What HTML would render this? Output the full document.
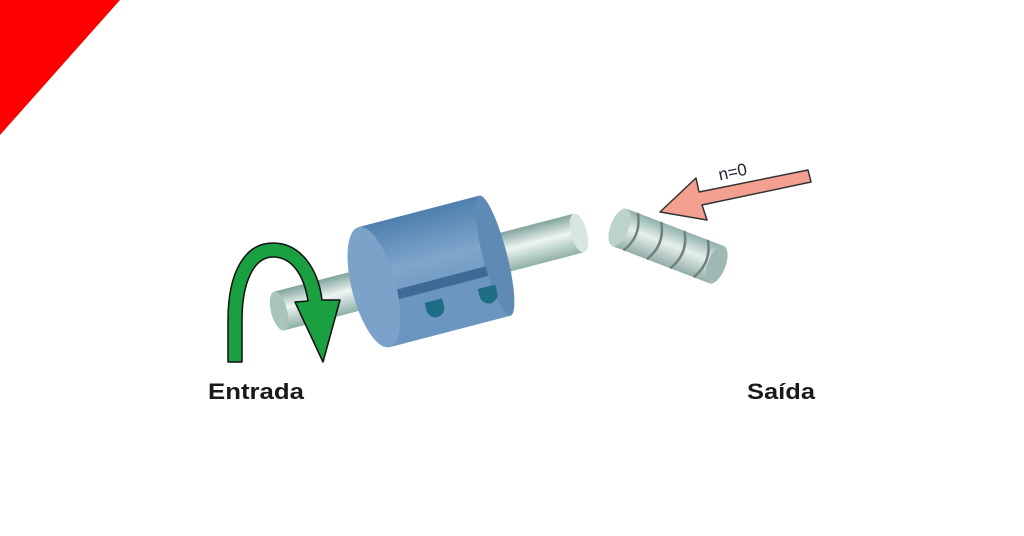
<!DOCTYPE html>
<html><head><style>body{margin:0;background:#fff}svg{display:block}</style></head><body>
<svg width="1024" height="536" viewBox="0 0 1024 536" xmlns="http://www.w3.org/2000/svg">
<defs>
<linearGradient id="sh" x1="0" y1="0" x2="0" y2="1">
<stop offset="0" stop-color="#7fa39c"/><stop offset="0.45" stop-color="#eef5f2"/><stop offset="1" stop-color="#8fb0a8"/></linearGradient>
<linearGradient id="bd" x1="0" y1="0" x2="0" y2="1">
<stop offset="0" stop-color="#4e7fae"/><stop offset="0.4" stop-color="#7fa6cb"/><stop offset="1" stop-color="#5d89b5"/></linearGradient>
<linearGradient id="rb" x1="0" y1="0" x2="0" y2="1">
<stop offset="0" stop-color="#8fb0aa"/><stop offset="0.45" stop-color="#e6efec"/><stop offset="1" stop-color="#93ada8"/></linearGradient>
</defs>
<polygon points="0,0 120,0 0,135" fill="#ff0000"/>
<g transform="translate(429,272) rotate(-14.6)">
<rect x="-155" y="-20" width="310" height="40" fill="url(#sh)"/>
<ellipse cx="-155" cy="0" rx="8" ry="20" fill="#a9c4bd"/>
<ellipse cx="155" cy="0" rx="8" ry="20" fill="#d8e6e2"/>
</g>
<g transform="translate(432,272) rotate(-14.6)">
<rect x="-60" y="-62" width="125" height="124" fill="url(#bd)"/>
<path d="M-60,15 L65,15 L65,62 L-60,62 Z" fill="#6a96c0"/>
<path d="M-40,8 L65,8 L65,18 L-40,18 Z" fill="#3e6b95"/>
<ellipse cx="65" cy="0" rx="12" ry="62" fill="#5f8ab4"/>
<ellipse cx="-60" cy="0" rx="22" ry="62" fill="#7ba3c9"/>
<path d="M-15,28 h18 v8 a9,9 0 0 1 -18,0 z" fill="#1f6d85"/>
<path d="M40,28 h18 v8 a9,9 0 0 1 -18,0 z" fill="#1f6d85"/>
</g>
<g transform="translate(668,246) rotate(21)">
<rect x="-52" y="-20" width="104" height="40" fill="url(#rb)"/>
<ellipse cx="-52" cy="0" rx="9" ry="20" fill="#bcd2cd"/>
<ellipse cx="52" cy="0" rx="9" ry="20" fill="#9fb8b3"/>
<path d="M-40,-20 q12,20 0,40 M-15,-20 q12,20 0,40 M10,-20 q12,20 0,40 M35,-20 q12,20 0,40" stroke="#6f817d" stroke-width="2.5" fill="none"/>
</g>
<polygon points="660,212 696,178 699,192 808,170 811,182 702,205 707,220" fill="#f4a090" stroke="#333" stroke-width="1.5" stroke-linejoin="round"/>
<text x="718" y="176" font-family="Liberation Sans, sans-serif" font-size="17" fill="#223" transform="rotate(-12 740 170)">n=0</text>
<path d="M228,362 L228,320 C228,272 245,243 273,243 C300,243 318,268 322,300 L340,300 L323,362 L295,302 L308,301 C304,275 292,257 273,257 C254,257 242,282 242,320 L242,362 Z" fill="#1aa040" stroke="#111" stroke-width="1.5" stroke-linejoin="round"/>
<text x="208" y="399" font-family="Liberation Sans, sans-serif" font-weight="bold" font-size="22" fill="#1a1a1a" textLength="96" lengthAdjust="spacingAndGlyphs">Entrada</text>
<text x="747" y="399" font-family="Liberation Sans, sans-serif" font-weight="bold" font-size="22" fill="#1a1a1a" textLength="68" lengthAdjust="spacingAndGlyphs">Saída</text>
</svg>
</body></html>
